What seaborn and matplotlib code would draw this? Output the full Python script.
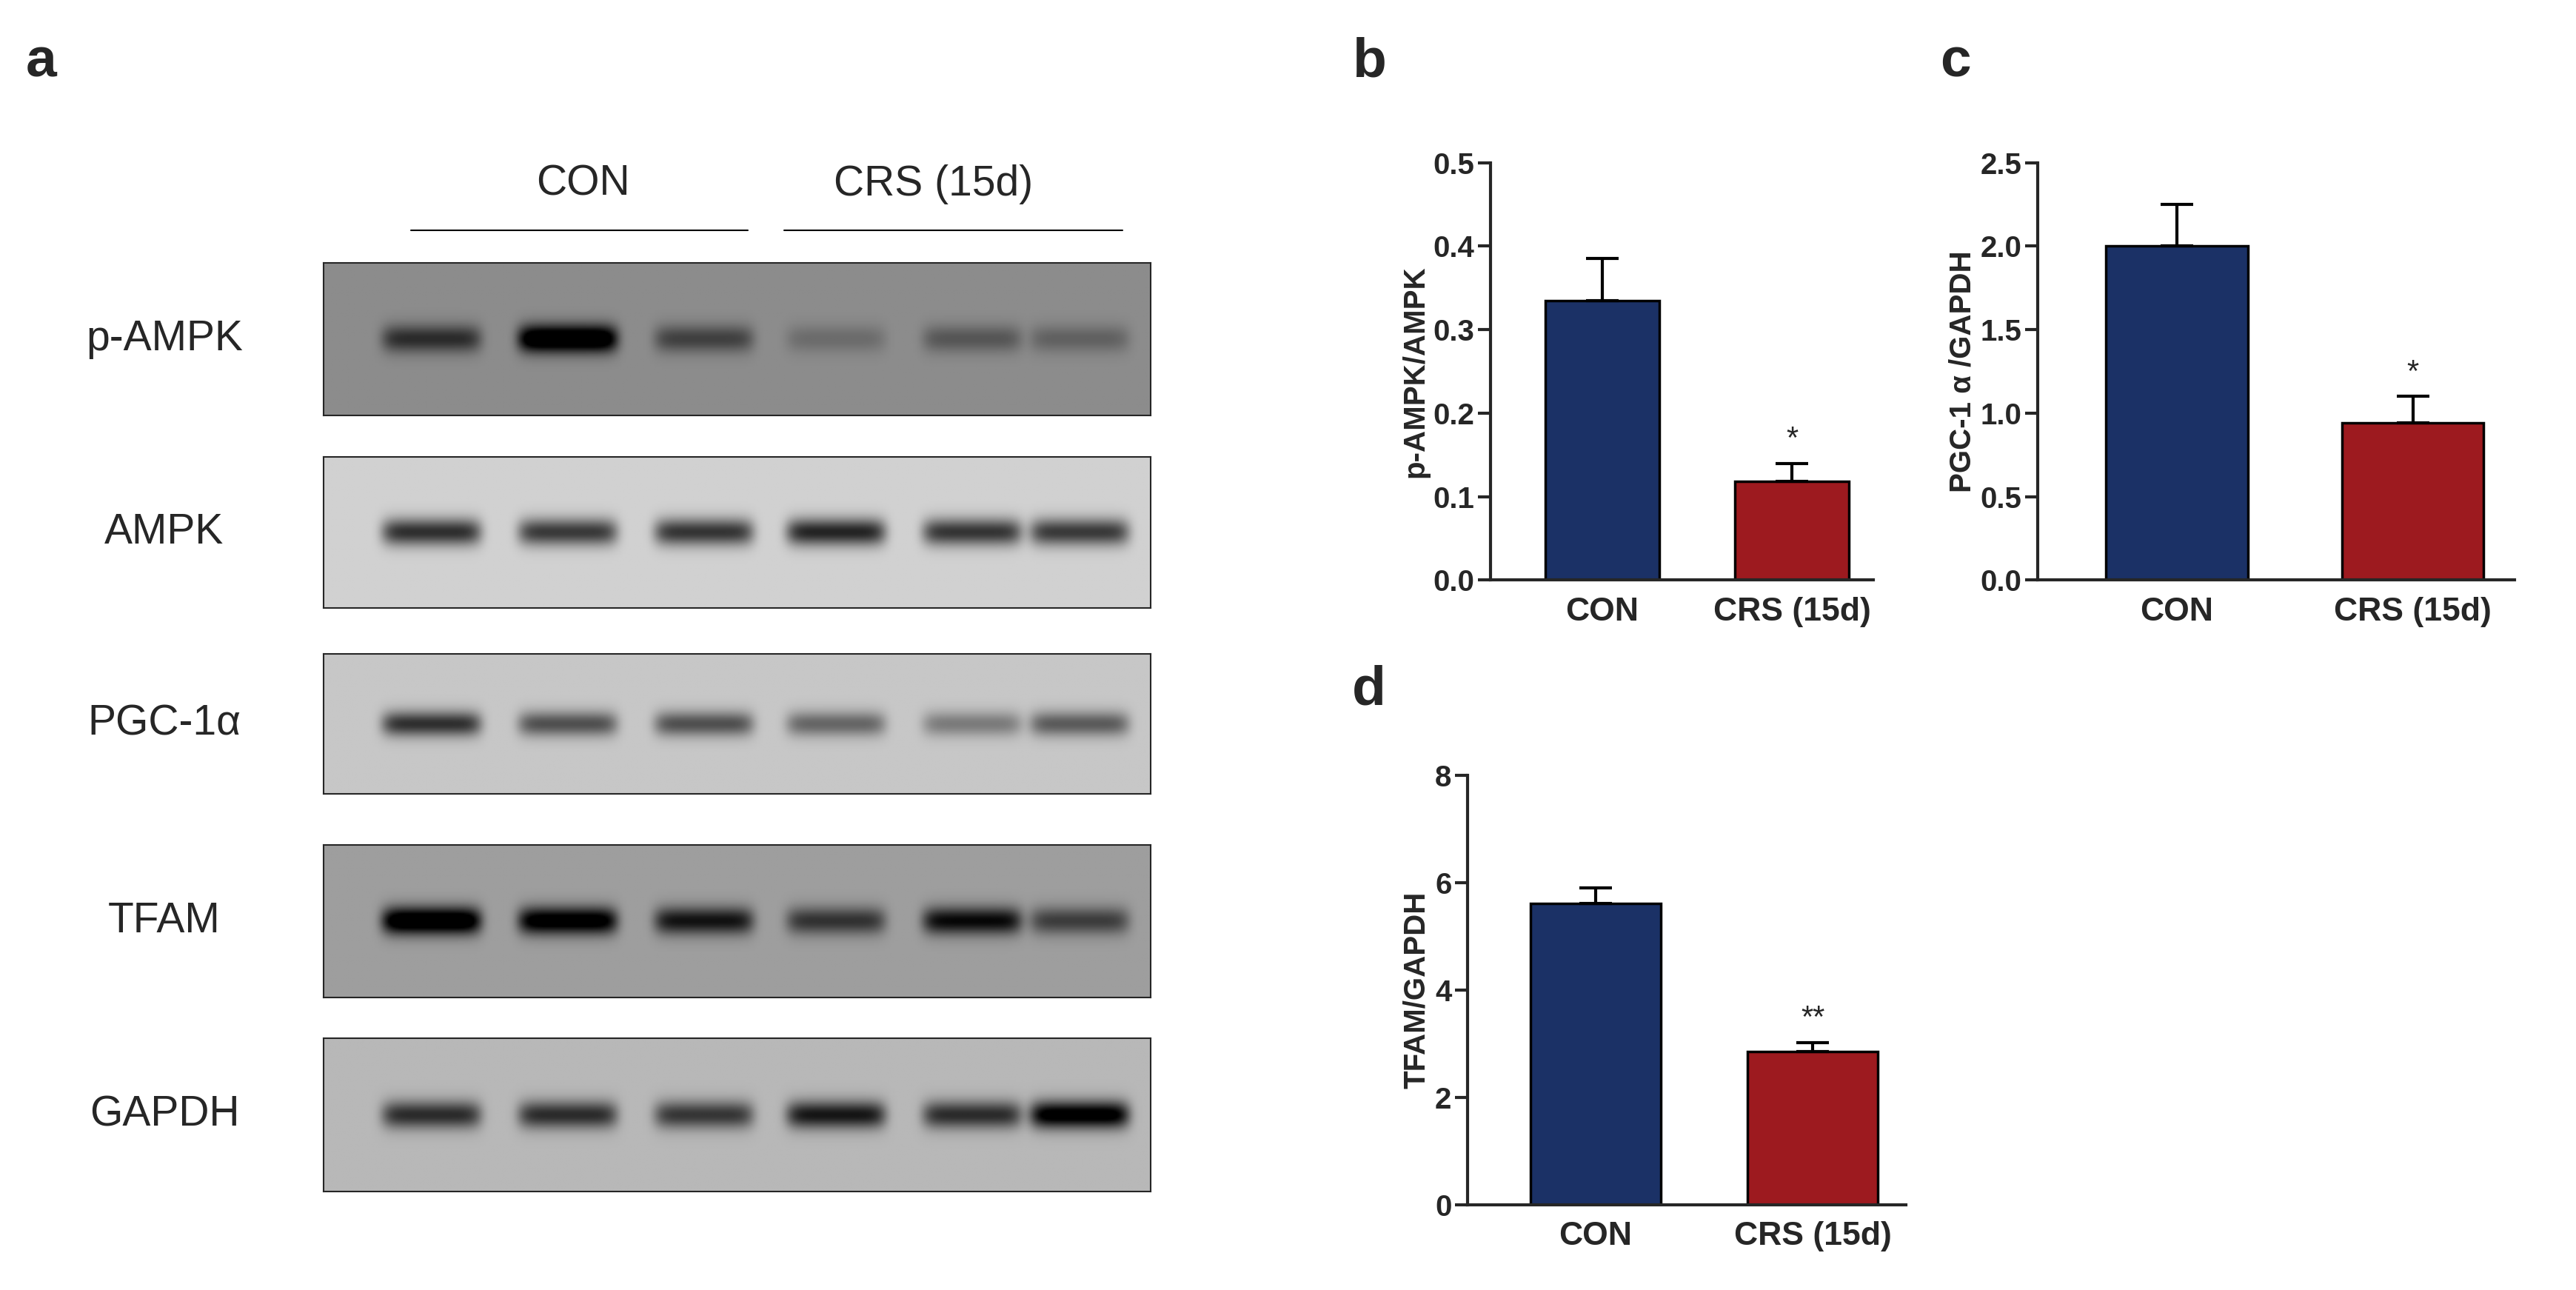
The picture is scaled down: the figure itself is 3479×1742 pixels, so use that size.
import numpy as np
import matplotlib
matplotlib.use("Agg")
import matplotlib.pyplot as plt
import seaborn as sns
import pandas as pd

sns.set_style("ticks")
plt.rcParams['font.family'] = ['Liberation Sans', 'DejaVu Sans']

groups = ["CON", "CRS (15d)"]
pampk_mean = [0.335, 0.118]; pampk_err = [0.05, 0.022]
pgc_mean = [2.0, 0.94]; pgc_err = [0.25, 0.16]
tfam_mean = [5.62, 2.85]; tfam_err = [0.28, 0.17]
colors = ["#1b3166", "#9d1a1f"]

blot_names = ["p-AMPK", "AMPK", "PGC-1α", "TFAM", "GAPDH"]
blot_bg = [0.55, 0.82, 0.78, 0.62, 0.72]
band_int = [[0.45, 0.9, 0.35, 0.15, 0.25, 0.2],
            [0.75, 0.7, 0.72, 0.8, 0.72, 0.7],
            [0.7, 0.55, 0.55, 0.45, 0.35, 0.5],
            [0.95, 0.85, 0.65, 0.5, 0.7, 0.45],
            [0.65, 0.65, 0.6, 0.75, 0.65, 0.95]]
lane_x = [0.13, 0.295, 0.46, 0.62, 0.785, 0.915]

W, H = 3480, 1742
fig = plt.figure(figsize=(W/100, H/100), dpi=100)

def fx(px): return px/1568
def fy(py): return 1 - py/785

rows = [(160, 253), (278, 370), (398, 483), (514, 607), (632, 725)]
for (t, b), name, bg, ints in zip(rows, blot_names, blot_bg, band_int):
    ax = fig.add_axes([fx(197), fy(b), fx(700)-fx(197), fy(t)-fy(b)])
    xs = np.linspace(0, 1, 500); ys = np.linspace(0, 1, 100)
    X, Y = np.meshgrid(xs, ys)
    img = np.full_like(X, bg)
    for cx, it in zip(lane_x, ints):
        img -= it * 0.85 * np.exp(-((X-cx)/0.06)**8) * np.exp(-((Y-0.5)/0.09)**2)
    ax.imshow(np.clip(img, 0, 1), cmap="gray", vmin=0, vmax=1, aspect="auto", extent=[0, 1, 0, 1])
    ax.set_xticks([]); ax.set_yticks([])
    for s in ax.spines.values(): s.set_linewidth(1.5)
    fig.text(fx(100), fy((t+b)/2), name, fontsize=41, ha="center", va="center")

fig.text(fx(355), fy(112), "CON", fontsize=41, ha="center", va="center")
fig.text(fx(568), fy(112), "CRS (15d)", fontsize=41, ha="center", va="center")
fig.add_artist(plt.Line2D([fx(250), fx(455)], [fy(140)]*2, color="k", lw=1.5))
fig.add_artist(plt.Line2D([fx(477), fx(683)], [fy(140)]*2, color="k", lw=1.5))

def bar_panel(rect, means, errs, ylim, step, ylabel, stars, fmt):
    ax = fig.add_axes(rect)
    df = pd.DataFrame({"g": groups, "v": means})
    sns.barplot(data=df, x="g", y="v", hue="g", palette=colors, ax=ax,
                width=0.6, edgecolor="black", linewidth=2.5, legend=False, saturation=1)
    ax.errorbar([0, 1], means, yerr=[[0, 0], errs], fmt="none", ecolor="black",
                elinewidth=3, capsize=16, capthick=3)
    ax.text(1, means[1]+errs[1]+ylim*0.02, stars, ha="center", va="bottom", fontsize=30)
    ax.set_ylim(0, ylim)
    ax.set_yticks(np.arange(0, ylim+step/2, step))
    ax.set_yticklabels([fmt.format(v) for v in np.arange(0, ylim+step/2, step)])
    ax.set_xlim(-0.59, 1.43)
    ax.set_xlabel(""); ax.set_ylabel(ylabel, fontsize=29, fontweight="bold")
    ax.tick_params(axis="y", labelsize=29, width=3, length=12)
    ax.tick_params(axis="x", labelsize=32, length=0, pad=16)
    for l in ax.get_yticklabels() + ax.get_xticklabels(): l.set_fontweight("bold")
    sns.despine(ax=ax)
    ax.spines["left"].set_linewidth(3); ax.spines["bottom"].set_linewidth(3)
    return ax

bar_panel([fx(907), fy(353), fx(1140)-fx(907), fy(99)-fy(353)], pampk_mean, pampk_err,
          0.5, 0.1, "p-AMPK/AMPK", "*", "{:.1f}")
bar_panel([fx(1240), fy(353), fx(1530)-fx(1240), fy(99)-fy(353)], pgc_mean, pgc_err,
          2.5, 0.5, "PGC-1 α /GAPDH", "*", "{:.1f}")
bar_panel([fx(893), fy(733), fx(1160)-fx(893), fy(472)-fy(733)], tfam_mean, tfam_err,
          8, 2, "TFAM/GAPDH", "**", "{:.0f}")

for lab, x, y in [("a", 25, 38), ("b", 833, 38), ("c", 1190, 38), ("d", 833, 420)]:
    fig.text(fx(x), fy(y), lab, fontsize=54, fontweight="bold", ha="center", va="center")

fig.savefig("out.png", dpi=100, facecolor="white")
